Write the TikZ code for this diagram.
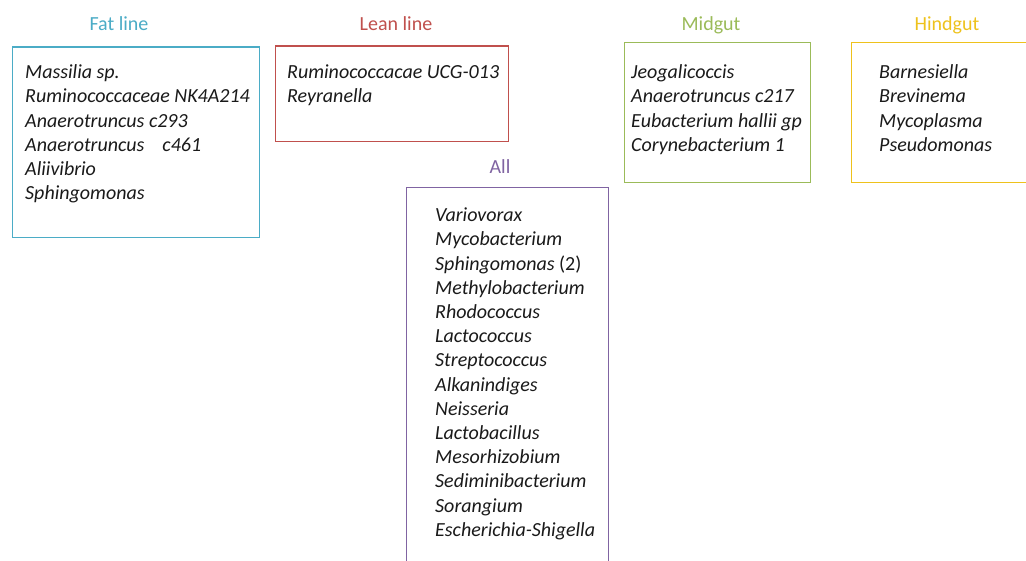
\documentclass[tikz,border=0pt]{standalone}
\usepackage{fontspec}
\setmainfont{Carlito}
\definecolor{fatc}{HTML}{4BACC6}
\definecolor{leanc}{HTML}{C0504D}
\definecolor{allc}{HTML}{8064A2}
\definecolor{midc}{HTML}{9BBB59}
\definecolor{hindc}{HTML}{EEC21C}
\definecolor{txt}{HTML}{1A1A1A}
\begin{document}
\begin{tikzpicture}[x=1pt,y=-1pt,
  title/.style={font=\fontsize{20}{24.2}\selectfont, inner sep=0pt, anchor=base},
  list/.style={font=\fontsize{20}{24.2}\selectfont\itshape, inner sep=0pt, anchor=north west, text=txt},
  frame/.style={draw, line width=1.2pt, inner sep=0pt, anchor=north west}]
\useasboundingbox (0,0) rectangle (1026,561);
\clip (0,0) rectangle (1026,561);
\fill[white] (0,0) rectangle (1026,561);
% titles
\node[title, text=fatc] (tfat) at (119,31) {Fat line};
\node[title, text=leanc] (tlean) at (396,31) {Lean line};
\node[title, text=allc] (tall) at (500,174) {All};
\node[title, text=midc] (tmid) at (711,31) {Midgut};
\node[title, text=hindc] (thind) at (947,31) {Hindgut};
% frames
\node[frame, draw=fatc, minimum width=247.5pt, minimum height=190.5pt] (bfat) at (11.5,46.5) {};
\node[frame, draw=leanc, minimum width=233pt, minimum height=95.5pt] (blean) at (275,45.5) {};
\node[frame, draw=allc, minimum width=202pt, minimum height=390pt] (ball) at (406,187) {};
\node[frame, draw=midc, minimum width=186pt, minimum height=140pt] (bmid) at (624,42) {};
\node[frame, draw=hindc, minimum width=190pt, minimum height=140pt] (bhind) at (851,42) {};
% lists
\node[list] (lfat) at (25,61.5) {\begin{tabular}{@{}l@{}}
Massilia sp.\\
Ruminococcaceae NK4A214\\
Anaerotruncus c293\\
Anaerotruncus\hspace{0.9em}c461\\
Aliivibrio\\
Sphingomonas
\end{tabular}};
\node[list] (llean) at (287,61) {\begin{tabular}{@{}l@{}}
Ruminococcacae UCG-013\\
Reyranella
\end{tabular}};
\node[list] (lall) at (435,204.5) {\begin{tabular}{@{}l@{}}
Variovorax\\
Mycobacterium\\
Sphingomonas {\upshape (2)}\\
Methylobacterium\\
Rhodococcus\\
Lactococcus\\
Streptococcus\\
Alkanindiges\\
Neisseria\\
Lactobacillus\\
Mesorhizobium\\
Sediminibacterium\\
Sorangium\\
Escherichia-Shigella
\end{tabular}};
\node[list] (lmid) at (631,61.5) {\begin{tabular}{@{}l@{}}
Jeogalicoccis\\
Anaerotruncus c217\\
Eubacterium hallii gp\\
Corynebacterium 1
\end{tabular}};
\node[list] (lhind) at (879,61.5) {\begin{tabular}{@{}l@{}}
Barnesiella\\
Brevinema\\
Mycoplasma\\
Pseudomonas
\end{tabular}};
\end{tikzpicture}
\end{document}
